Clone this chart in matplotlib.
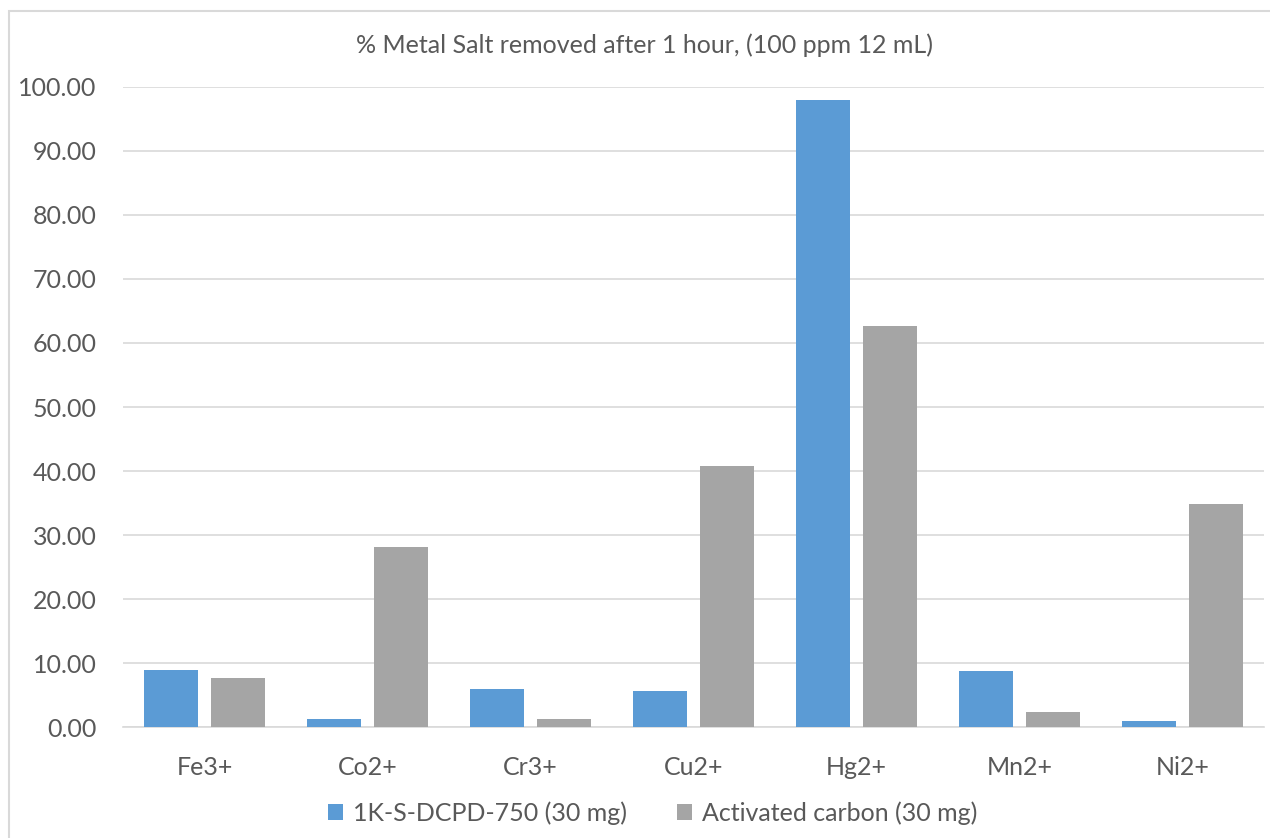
import matplotlib
matplotlib.use("Agg")
import matplotlib.pyplot as plt
import numpy as np
from matplotlib.patches import Rectangle

categories = ["Fe3+", "Co2+", "Cr3+", "Cu2+", "Hg2+", "Mn2+", "Ni2+"]
series_names = ["1K-S-DCPD-750 (30 mg)", "Activated carbon (30 mg)"]
dcpd_values = [9.0, 1.35, 6.0, 5.6, 98.0, 8.85, 0.95]
carbon_values = [7.7, 28.1, 1.25, 40.8, 62.7, 2.4, 34.9]
y_ticks = [0, 10, 20, 30, 40, 50, 60, 70, 80, 90, 100]

BLUE = "#5B9BD5"
GRAY = "#A5A5A5"
TEXT = "#595959"
GRID = "#D9D9D9"

plt.rcParams["font.family"] = ["Lato", "DejaVu Sans"]

fig = plt.figure(figsize=(12.7, 8.38), dpi=100)
W, H = 1270, 838
ax = fig.add_axes([123 / W, 1 - 727.3 / H, (1264 - 123) / W, (727.3 - 86.7) / H])

# chart frame
fig.patches.append(Rectangle((9 / W, -0.1), 1.2, 1 - 11 / H + 0.1,
                             transform=fig.transFigure, fill=False,
                             edgecolor="#D9D9D9", linewidth=1.5))

x = np.arange(len(categories))
width = 0.331
offset = 0.206
ax.bar(x - offset, dcpd_values, width, color=BLUE, label=series_names[0], zorder=3)
ax.bar(x + offset, carbon_values, width, color=GRAY, label=series_names[1], zorder=3)

ax.set_xlim(-0.5, len(categories) - 0.5)
ax.set_ylim(0, 100)
ax.set_yticks(y_ticks)
ax.set_yticklabels([f"{v:.2f}" for v in y_ticks])
ax.set_xticks(x)
ax.set_xticklabels(categories)
ax.yaxis.grid(True, color=GRID, linewidth=1.2, zorder=0)
ax.tick_params(axis="both", length=0, labelsize=18, colors=TEXT)
ax.tick_params(axis="x", pad=21)
ax.tick_params(axis="y", pad=19)
for s in ["top", "right", "left"]:
    ax.spines[s].set_visible(False)
ax.spines["bottom"].set_color(GRID)
ax.spines["bottom"].set_linewidth(1.2)

fig.text(645 / W, 1 - 45 / H, "% Metal Salt removed after 1 hour, (100 ppm 12 mL)",
         ha="center", va="center", fontsize=18, color=TEXT)

leg = fig.legend(loc="center", bbox_to_anchor=(0.514, 1 - 813 / H), ncol=2,
                 frameon=False, fontsize=18, handlelength=0.6, handleheight=0.6,
                 handletextpad=0.4, columnspacing=2.0)
for t in leg.get_texts():
    t.set_color(TEXT)

fig.savefig("out.png", dpi=100, facecolor="white")
